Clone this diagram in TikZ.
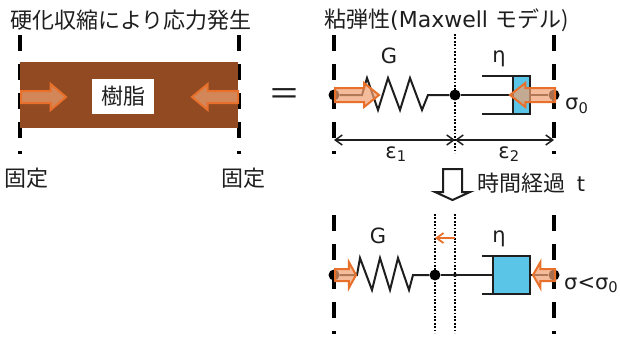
\documentclass[tikz,border=0pt]{standalone}
\usepackage{fontspec}
\setmainfont{DejaVu Sans}
\newfontfamily\jpfont{Noto Sans CJK JP}
\usetikzlibrary{arrows.meta}
\definecolor{resin}{HTML}{924A22}
\definecolor{orangeedge}{HTML}{E8702A}
\definecolor{orangefill}{HTML}{F0A070}
\definecolor{pistonblue}{HTML}{5BC5E8}
\definecolor{ink}{HTML}{1E1E1E}
\newcommand{\blockarrow}[5]{% x0 x1 y halfshaft halfhead
  \pgfmathsetmacro{\headx}{#1+(#2-#1)*0.66}
  \fill[orangefill,fill opacity=.7] (#1,#3-#4) -- (\headx,#3-#4) -- (\headx,#3-#5) -- (#2,#3) -- (\headx,#3+#5) -- (\headx,#3+#4) -- (#1,#3+#4) -- cycle;
  \draw[orangeedge,line width=2pt,line join=miter] (#1,#3-#4) -- (\headx,#3-#4) -- (\headx,#3-#5) -- (#2,#3) -- (\headx,#3+#5) -- (\headx,#3+#4) -- (#1,#3+#4) -- cycle;
}
\tikzset{
  x=1pt,y=-1pt,
  jp/.style={font=\jpfont\fontsize{22}{22}\selectfont,text=ink,inner sep=0pt},
  lat/.style={font=\fontsize{21}{21}\selectfont,text=ink,inner sep=0pt},
  wall/.style={line width=3.6pt,black,dash pattern=on 15.5pt off 13.5pt},
  cut/.style={line width=2pt,black,dash pattern=on 1.7pt off 1.7pt},
  wire/.style={line width=2pt,ink,line join=miter},
  dimline/.style={line width=1.5pt,ink,{Straight Barb[length=7pt,width=10pt]}-{Straight Barb[length=7pt,width=10pt]}},
  joint/.style={circle,fill=black,inner sep=0pt,minimum size=#1},
  piston/.style={draw=ink,line width=2pt,fill=pistonblue,inner sep=0pt,outer sep=0pt},
}
\begin{document}
\begin{tikzpicture}
\useasboundingbox (0,0) rectangle (620,338);
\fill[white] (0,0) rectangle (620,338);
% titles
\node[jp,anchor=west] (title1) at (10,20) {硬化収縮により応力発生};
\node[jp,anchor=west] (title2) at (324,20) {粘弾性\fontspec{DejaVu Sans}\fontsize{22}{22}\selectfont(Maxwell \jpfont\fontsize{22}{22}\selectfont モデル)};
% resin block
\draw[wall] (20,35) -- (20,154);
\draw[wall] (239,35) -- (239,154);
\node[fill=resin,minimum width=218pt,minimum height=66pt,inner sep=0pt,anchor=north west] (resinblock) at (20,62) {};
\node[fill=white,minimum width=62pt,minimum height=35pt,inner sep=0pt] (resinlabel) at (123,96) {};
\node[jp] (resintext) at (123,96) {樹脂};
\blockarrow{21}{66}{97}{6}{13}
\blockarrow{238}{192}{97}{6}{13}
\node[jp] (fix1) at (27,178) {固定};
\node[jp] (fix2) at (243,178) {固定};
\node[font=\jpfont\fontsize{32}{32}\selectfont,text=ink,inner sep=0pt] (eq) at (284,97) {＝};
% upper Maxwell model
\draw[wall] (334,35) -- (334,154);
\draw[wall] (554,35) -- (554,154);
\draw[cut] (455,34) -- (455,153);
\node[joint=11pt] (a1) at (334,95) {};
\node[joint=11pt] (a2) at (455,95) {};
\node[joint=11pt] (a3) at (554,95) {};
\node[piston,minimum width=17pt,minimum height=38pt] (p1) at (521.5,95) {};
\coordinate (p1t) at (482,76);
\coordinate (p1b) at (482,114);
\draw[wire] (p1t) -- (p1.north west);
\draw[wire] (p1b) -- (p1.south west);
\draw[wire] (a1) -- (362,95) -- (367,78) -- (378,110) -- (388,78) -- (400,110) -- (410,78) -- (422,110) -- (428,95) -- (a2);
\draw[wire] (a2) -- (p1.west);
\draw[wire] (p1.east) -- (a3);
\blockarrow{335}{379}{95}{7}{12}
\blockarrow{555}{510}{95}{7}{12}
\coordinate (d1) at (334,140);
\coordinate (d2) at (455,140);
\coordinate (d3) at (554,140);
\draw[dimline] (d1) -- (d2);
\draw[dimline] (d2) -- (d3);
\node[lat] (G1) at (389,56) {G};
\node[lat] (eta1) at (499,59) {η};
\node[lat] (e1) at (396,154) {ε\textsubscript{1}};
\node[lat] (e2) at (509,154) {ε\textsubscript{2}};
\node[lat,anchor=west] (s1) at (565,106) {σ\textsubscript{0}};
% time arrow
\draw[line width=2pt,ink,fill=white,line join=miter] (443,169) -- (462,169) -- (462,192) -- (470,192) -- (452.5,200) -- (435,192) -- (443,192) -- cycle;
\node[jp,anchor=west] (time) at (477,183) {時間経過\fontspec{DejaVu Sans}\fontsize{21}{21}\selectfont\hspace{5pt} t};
% lower Maxwell model
\draw[wall] (334,215) -- (334,334);
\draw[wall] (554,215) -- (554,334);
\draw[cut] (435,214) -- (435,333);
\draw[cut] (455,214) -- (455,333);
\node[joint=11pt] (b1) at (334,275) {};
\node[joint=11pt] (b2) at (435,275) {};
\node[joint=4pt] (b2s) at (455,275) {};
\node[joint=11pt] (b3) at (554,275) {};
\node[piston,minimum width=37pt,minimum height=38pt] (p2) at (511.5,275) {};
\coordinate (p2t) at (482,256);
\coordinate (p2b) at (482,294);
\draw[wire] (p2t) -- (p2.north west);
\draw[wire] (p2b) -- (p2.south west);
\draw[wire] (b1) -- (357,275) -- (360,258) -- (372,290) -- (380,258) -- (390,290) -- (398,258) -- (409,290) -- (413,275) -- (b2);
\draw[wire] (b2) -- (p2.west);
\draw[wire] (p2.east) -- (b3);
\blockarrow{335}{356}{275}{6}{13}
\blockarrow{555}{533}{275}{6}{13}
\draw[orangeedge,line width=1.8pt,-{Straight Barb[length=7pt,width=10pt]}] (b2s |- 0,238) -- (b2 |- 0,238);
\node[lat] (G2) at (378,236) {G};
\node[lat] (eta2) at (499,239) {η};
\node[lat,anchor=west] (s2) at (564,285) {σ<σ\textsubscript{0}};
\end{tikzpicture}
\end{document}
